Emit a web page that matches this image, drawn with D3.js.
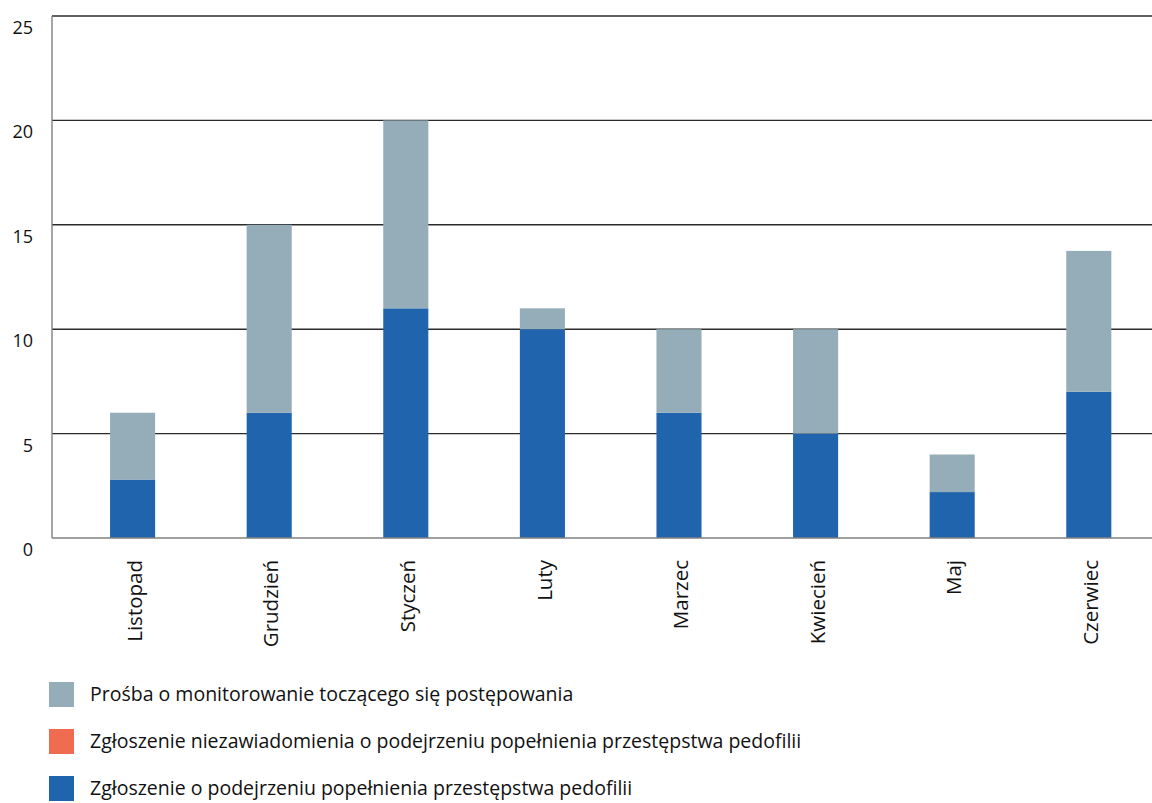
<!DOCTYPE html>
<html>
<head>
<meta charset="utf-8">
<script src="https://cdn.jsdelivr.net/npm/d3@7"></script>
<style>
  body { margin: 0; background: #fff; }
  svg { display: block; font-family: 'Open Sans', sans-serif; }
</style>
</head>
<body>
<div id="chart"></div>
<script>
const months = ['Listopad', 'Grudzień', 'Styczeń', 'Luty', 'Marzec', 'Kwiecień', 'Maj', 'Czerwiec'];
const zgloszenie = [2.8, 6, 11, 10, 6, 5, 2.2, 7];
const niezawiadomienie = [0, 0, 0, 0, 0, 0, 0, 0];
const prosba = [3.2, 9, 9, 1, 4, 5, 1.8, 6.75];
const yTicks = [0, 5, 10, 15, 20, 25];

const seriesNames = [
  'Zgłoszenie o podejrzeniu popełnienia przestępstwa pedofilii',
  'Zgłoszenie niezawiadomienia o podejrzeniu popełnienia przestępstwa pedofilii',
  'Prośba o monitorowanie toczącego się postępowania'
];
const colors = ['#2164ae', '#ef6c50', '#95adb9'];

const width = 1152, height = 803;
const margin = {top: 16, left: 52, bottom: 265};
const plotBottom = height - margin.bottom;

const rows = months.map((m, i) => ({
  cat: m, s0: zgloszenie[i], s1: niezawiadomienie[i], s2: prosba[i]
}));
const stack = d3.stack().keys(['s0', 's1', 's2'])(rows);

const svg = d3.select('#chart').append('svg')
  .attr('width', width).attr('height', height);

const xScale = d3.scaleBand().domain(months)
  .range([margin.left, margin.left + 136.6 * (8 - 0.67 + 0.85)])
  .paddingInner(0.67).paddingOuter(0.425);
const yScale = d3.scaleLinear().domain([0, 25]).range([plotBottom, margin.top]);

// gridlines
svg.append('g').selectAll('line')
  .data(yTicks.filter(d => d > 0))
  .join('line')
  .attr('x1', margin.left).attr('x2', width)
  .attr('y1', d => yScale(d)).attr('y2', d => yScale(d))
  .attr('stroke', '#2b2b2b').attr('stroke-width', 1.4);

// y labels
svg.append('g').selectAll('text')
  .data(yTicks)
  .join('text')
  .attr('x', 33).attr('y', d => yScale(d) + 18)
  .attr('text-anchor', 'end')
  .attr('font-size', 18).attr('fill', '#111')
  .text(d => d);

// bars
svg.append('g').selectAll('g')
  .data(stack)
  .join('g')
  .attr('fill', (d, i) => colors[i])
  .selectAll('rect')
  .data(d => d)
  .join('rect')
  .attr('x', d => xScale(d.data.cat))
  .attr('width', xScale.bandwidth())
  .attr('y', d => yScale(d[1]))
  .attr('height', d => yScale(d[0]) - yScale(d[1]));

// axes lines
svg.append('line')
  .attr('x1', margin.left).attr('x2', margin.left)
  .attr('y1', margin.top).attr('y2', plotBottom)
  .attr('stroke', '#808080').attr('stroke-width', 1.4);
svg.append('line')
  .attr('x1', margin.left).attr('x2', width)
  .attr('y1', plotBottom).attr('y2', plotBottom)
  .attr('stroke', '#808080').attr('stroke-width', 1.6);

// x labels
svg.append('g').selectAll('text')
  .data(months)
  .join('text')
  .attr('transform', d => `translate(${xScale(d) + xScale.bandwidth() / 2 + 2},${plotBottom + 22}) rotate(-90)`)
  .attr('text-anchor', 'end')
  .attr('dy', '0.35em')
  .attr('font-size', 20.5).attr('fill', '#111')
  .text(d => d);

// legend
const legendOrder = [2, 1, 0];
const legend = svg.append('g').selectAll('g')
  .data(legendOrder)
  .join('g')
  .attr('transform', (d, i) => `translate(49,${682 + i * 47})`);
legend.append('rect')
  .attr('width', 25).attr('height', 25)
  .attr('fill', d => colors[d]);
legend.append('text')
  .attr('x', 41).attr('y', 12.5).attr('dy', '0.35em')
  .attr('font-size', 19.5).attr('fill', '#111')
  .text(d => seriesNames[d]);
</script>
</body>
</html>
